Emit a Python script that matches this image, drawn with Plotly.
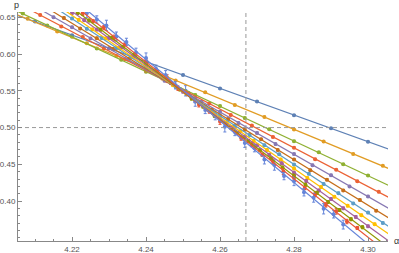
import plotly.graph_objects as go

# ---------------- data ----------------
alpha_1 = [4.21, 4.22, 4.23, 4.24, 4.25, 4.26, 4.27, 4.28, 4.29, 4.30]
p_1 = [0.6442, 0.6255, 0.6079, 0.5892, 0.5716, 0.5531, 0.5353, 0.5168, 0.4991, 0.4806]

alpha_2 = [4.208, 4.216, 4.224, 4.232, 4.240, 4.248, 4.256, 4.264, 4.272, 4.280, 4.288, 4.296, 4.304]
p_2 = [0.6479, 0.6306, 0.6146, 0.5973, 0.5812, 0.5640, 0.5479, 0.5306, 0.5145, 0.4973, 0.4812, 0.4639, 0.4479]

alpha_3 = [4.2067, 4.2133, 4.2200, 4.2267, 4.2333, 4.2400, 4.2467, 4.2533, 4.2600, 4.2667,
           4.2733, 4.2800, 4.2867, 4.2933, 4.3000]
p_3 = [0.6552, 0.6389, 0.6237, 0.6074, 0.5922, 0.5759, 0.5608, 0.5444, 0.5293, 0.5130,
       0.4978, 0.4815, 0.4663, 0.4500, 0.4349]

alpha_4 = [4.2114, 4.2171, 4.2229, 4.2286, 4.2343, 4.2400, 4.2457, 4.2514, 4.2571, 4.2629,
           4.2686, 4.2743, 4.2800, 4.2857, 4.2914, 4.2971, 4.3029]
p_4 = [0.6532, 0.6375, 0.6231, 0.6074, 0.5931, 0.5773, 0.5630, 0.5472, 0.5329, 0.5172,
       0.5028, 0.4871, 0.4727, 0.4570, 0.4427, 0.4269, 0.4126]

alpha_5 = [4.215, 4.220, 4.225, 4.230, 4.235, 4.240, 4.245, 4.250, 4.255, 4.260,
           4.265, 4.270, 4.275, 4.280, 4.285, 4.290, 4.295, 4.300]
p_5 = [0.6500, 0.6365, 0.6213, 0.6077, 0.5925, 0.5790, 0.5638, 0.5502, 0.5350, 0.5214,
       0.5063, 0.4927, 0.4775, 0.4639, 0.4488, 0.4352, 0.4200, 0.4064]

alpha_6 = [4.2178, 4.2222, 4.2267, 4.2311, 4.2356, 4.2400, 4.2444, 4.2489, 4.2533, 4.2578,
           4.2622, 4.2667, 4.2711, 4.2756, 4.2800, 4.2844, 4.2889, 4.2933, 4.2978, 4.3022]
p_6 = [0.6491, 0.6346, 0.6216, 0.6070, 0.5941, 0.5795, 0.5666, 0.5520, 0.5391, 0.5245,
       0.5116, 0.4970, 0.4841, 0.4695, 0.4566, 0.4420, 0.4291, 0.4145, 0.4016, 0.3870]

alpha_7 = [4.220, 4.224, 4.228, 4.232, 4.236, 4.240, 4.244, 4.248, 4.252, 4.256, 4.260,
           4.264, 4.268, 4.272, 4.276, 4.280, 4.284, 4.288, 4.292, 4.296, 4.300, 4.304]
p_7 = [0.6484, 0.6344, 0.6220, 0.6080, 0.5956, 0.5816, 0.5692, 0.5552, 0.5428, 0.5288, 0.5164,
       0.5024, 0.4900, 0.4760, 0.4636, 0.4496, 0.4372, 0.4232, 0.4108, 0.3968, 0.3843, 0.3703]

alpha_8 = [4.2218, 4.2255, 4.2291, 4.2327, 4.2364, 4.2400, 4.2436, 4.2473, 4.2509, 4.2545,
           4.2582, 4.2618, 4.2655, 4.2691, 4.2727, 4.2764, 4.2800, 4.2836, 4.2873, 4.2909,
           4.2945, 4.2982, 4.3018]
p_8 = [0.6465, 0.6335, 0.6213, 0.6082, 0.5960, 0.5829, 0.5707, 0.5576, 0.5454, 0.5323,
       0.5202, 0.5071, 0.4949, 0.4818, 0.4696, 0.4566, 0.4444, 0.4313, 0.4191, 0.4060,
       0.3938, 0.3808, 0.3686]

alpha_9 = [4.2200, 4.2233, 4.2267, 4.2300, 4.2333, 4.2367, 4.2400, 4.2433, 4.2467, 4.2500,
           4.2533, 4.2567, 4.2600, 4.2633, 4.2667, 4.2700, 4.2733, 4.2767, 4.2800, 4.2833,
           4.2867, 4.2900, 4.2933, 4.2967, 4.3000]
p_9 = [0.6560, 0.6461, 0.6333, 0.6218, 0.6090, 0.5974, 0.5847, 0.5731, 0.5604, 0.5488,
       0.5360, 0.5245, 0.5117, 0.5002, 0.4874, 0.4758, 0.4631, 0.4515, 0.4387, 0.4272,
       0.4144, 0.4028, 0.3901, 0.3785, 0.3657]

alpha_10 = [4.2215, 4.2246, 4.2277, 4.2308, 4.2338, 4.2369, 4.2400, 4.2431, 4.2462, 4.2492,
            4.2523, 4.2554, 4.2585, 4.2615, 4.2646, 4.2677, 4.2708, 4.2738, 4.2769, 4.2800,
            4.2831, 4.2862, 4.2892, 4.2923, 4.2954, 4.2985]
p_10 = [0.6558, 0.6457, 0.6332, 0.6223, 0.6097, 0.5988, 0.5863, 0.5754, 0.5629, 0.5519,
        0.5394, 0.5285, 0.5160, 0.5050, 0.4925, 0.4816, 0.4691, 0.4581, 0.4456, 0.4347,
        0.4222, 0.4113, 0.3987, 0.3878, 0.3753, 0.3644]

alpha_11 = [4.2229, 4.2257, 4.2286, 4.2314, 4.2343, 4.2371, 4.2400, 4.2429, 4.2457, 4.2486,
            4.2514, 4.2543, 4.2571, 4.2600, 4.2629, 4.2657, 4.2686, 4.2714, 4.2743, 4.2771,
            4.2800, 4.2829, 4.2857, 4.2886, 4.2914, 4.2943, 4.2971]
p_11 = [0.6555, 0.6445, 0.6360, 0.6218, 0.6131, 0.5990, 0.5905, 0.5765, 0.5678, 0.5538,
        0.5452, 0.5310, 0.5225, 0.5083, 0.4998, 0.4857, 0.4770, 0.4630, 0.4543, 0.4401,
        0.4316, 0.4175, 0.4090, 0.3948, 0.3862, 0.3722, 0.3635]
err_11 = [0.003, 0.002, 0.003, 0.004, 0.002, 0.003, 0.003, 0.002, 0.004, 0.003,
          0.002, 0.003, 0.003, 0.004, 0.002, 0.003, 0.003, 0.002, 0.003, 0.004,
          0.003, 0.002, 0.003, 0.003, 0.004, 0.003, 0.002]

alpha_12 = [4.2240, 4.2267, 4.2293, 4.2320, 4.2347, 4.2373, 4.2400, 4.2427, 4.2453, 4.2480,
            4.2507, 4.2533, 4.2560, 4.2587, 4.2613, 4.2640, 4.2667, 4.2693, 4.2720, 4.2747,
            4.2773, 4.2800, 4.2827, 4.2853, 4.2880, 4.2907, 4.2933]
p_12 = [0.6555, 0.6470, 0.6390, 0.6240, 0.6165, 0.6020, 0.5945, 0.5800, 0.5715, 0.5575,
        0.5500, 0.5350, 0.5240, 0.5165, 0.5010, 0.4940, 0.4790, 0.4720, 0.4565, 0.4490,
        0.4340, 0.4270, 0.4120, 0.4045, 0.3895, 0.3820, 0.3680]
err_12 = [0.006, 0.005, 0.007, 0.006, 0.005, 0.006, 0.007, 0.005, 0.006, 0.005,
          0.007, 0.006, 0.005, 0.006, 0.007, 0.005, 0.006, 0.005, 0.006, 0.007,
          0.005, 0.006, 0.005, 0.006, 0.007, 0.005, 0.006]

# small, nearly invisible error sizes for series 1-10
err_small = [0.0010, 0.0010, 0.0012, 0.0012, 0.0014, 0.0014, 0.0015, 0.0016, 0.0018, 0.0020]

# linear fits: value at alpha = 4.25 and slope
fit_p425 = [0.5714, 0.5601, 0.5526, 0.5514, 0.5498, 0.5490, 0.5490, 0.5484, 0.5485, 0.5486, 0.5494, 0.5508]
fit_slope = [-1.8126, -2.0842, -2.3608, -2.6324, -2.8751, -3.0940, -3.3011, -3.4742, -3.6490, -3.8103, -3.9715, -4.1870]

alpha_c = 4.267
p_c = 0.5
x_ticks = [4.22, 4.24, 4.26, 4.28, 4.30]
y_ticks = [0.40, 0.45, 0.50, 0.55, 0.60, 0.65]

# ---------------- style ----------------
colors = ["#5E81B5", "#E19C24", "#8FB032", "#EB6235", "#8778B3", "#C56E1A",
          "#5D9EC7", "#FFBF00", "#A5609D", "#929600", "#E95536", "#6685D9"]

alphas = [alpha_1, alpha_2, alpha_3, alpha_4, alpha_5, alpha_6, alpha_7, alpha_8, alpha_9, alpha_10, alpha_11, alpha_12]
ps = [p_1, p_2, p_3, p_4, p_5, p_6, p_7, p_8, p_9, p_10, p_11, p_12]
errs = [[e] * len(a) for e, a in zip(err_small, alphas[:10])] + [err_11, err_12]

X0, X1 = 4.2054, 4.3054
Y0, Y1 = 0.3457, 0.6572

fig = go.Figure()

for i in range(12):
    fig.add_trace(go.Scatter(
        x=alphas[i], y=ps[i], mode="markers",
        marker=dict(color=colors[i], size=4),
        error_y=dict(type="data", array=errs[i], visible=True, color=colors[i], thickness=1, width=1.5),
        showlegend=False, hoverinfo="skip"))

for i in range(12):
    xa = [4.19, 4.32]
    ya = [fit_p425[i] + fit_slope[i] * (x - 4.25) for x in xa]
    fig.add_trace(go.Scatter(x=xa, y=ya, mode="lines",
                             line=dict(color=colors[i], width=1.2),
                             showlegend=False, hoverinfo="skip"))

# dashed reference lines
fig.add_trace(go.Scatter(x=[X0, X1], y=[p_c, p_c], mode="lines",
                         line=dict(color="#999999", width=1, dash="4px,3px"), showlegend=False))
fig.add_trace(go.Scatter(x=[alpha_c, alpha_c], y=[Y0, Y1], mode="lines",
                         line=dict(color="#999999", width=1, dash="4px,3px"), showlegend=False))

axis_font = dict(family="Liberation Sans, Arial, sans-serif", size=8, color="#555555")

fig.update_layout(
    width=399, height=253,
    margin=dict(l=18, r=11, t=12, b=12),
    paper_bgcolor="white", plot_bgcolor="white",
    xaxis=dict(range=[X0, X1], showgrid=False, zeroline=False, showline=True,
               linecolor="#888888", linewidth=1, ticks="inside", ticklen=4, tickcolor="#888888",
               tickvals=x_ticks, ticktext=[f"{v:.2f}" for v in x_ticks], tickfont=axis_font,
               minor=dict(ticks="inside", ticklen=2, dtick=0.005, tick0=4.2, tickcolor="#888888"),
               automargin=False, ticklabelstandoff=0),
    yaxis=dict(range=[Y0, Y1], showgrid=False, zeroline=False, showline=True,
               linecolor="#888888", linewidth=1, ticks="inside", ticklen=4, tickcolor="#888888",
               tickvals=y_ticks, ticktext=[f"{v:.2f}" for v in y_ticks], tickfont=axis_font,
               minor=dict(ticks="inside", ticklen=2, dtick=0.01, tick0=0.0, tickcolor="#888888"),
               automargin=False, ticklabelstandoff=0),
    annotations=[
        dict(text="p", x=-0.005, y=1.031, xref="paper", yref="paper", showarrow=False,
             xanchor="center", yanchor="middle",
             font=dict(family="Liberation Sans, Arial, sans-serif", size=9, color="#333333")),
        dict(text="α", x=1.022, y=0.0, xref="paper", yref="paper", showarrow=False,
             xanchor="center", yanchor="middle",
             font=dict(family="Liberation Sans, Arial, sans-serif", size=9, color="#333333")),
    ],
)

fig.write_html("out.html", config={"displayModeBar": False},
               post_script="document.body.style.margin='0';document.body.style.padding='0';")
